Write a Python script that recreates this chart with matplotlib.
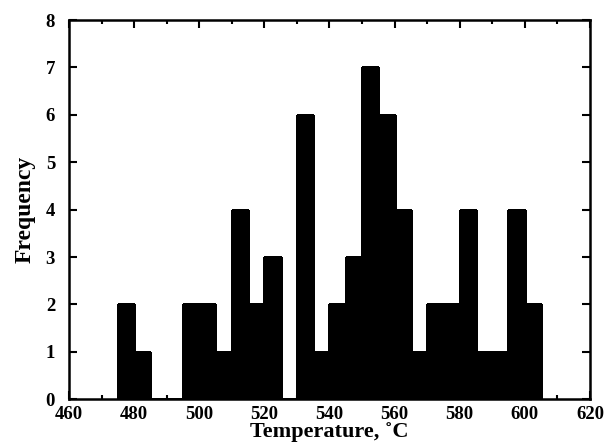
import matplotlib.pyplot as plt
from matplotlib.ticker import MultipleLocator

# histogram of temperatures, bins of 5 degC
bin_starts = [475, 480, 485, 490, 495, 500, 505, 510, 515, 520, 525,
              530, 535, 540, 545, 550, 555, 560, 565, 570, 575, 580,
              585, 590, 595, 600]
counts = [2, 1, 0, 0, 2, 2, 1, 4, 2, 3, 0,
          6, 1, 2, 3, 7, 6, 4, 1, 2, 2, 4,
          1, 1, 4, 2]
bin_width = 5

plt.rcParams["font.family"] = ["Liberation Serif", "DejaVu Serif"]
plt.rcParams["font.weight"] = "bold"

fig = plt.figure(figsize=(6.05, 4.47), dpi=100)
ax = fig.add_axes([0.114, 0.107, 0.861, 0.848])

ax.bar(bin_starts, counts, width=bin_width, align="edge",
       color="black", edgecolor="black", linewidth=1.0, antialiased=False)

ax.set_xlim(460, 620)
ax.set_ylim(0, 8)
ax.xaxis.set_major_locator(MultipleLocator(20))
ax.xaxis.set_minor_locator(MultipleLocator(10))
ax.yaxis.set_major_locator(MultipleLocator(1))

ax.tick_params(which="both", direction="in", top=True, right=True,
               labelsize=13.5, width=1.5)
ax.tick_params(which="major", length=6)
ax.tick_params(which="minor", length=3)
ax.tick_params(axis="x", pad=5)
ax.tick_params(axis="y", pad=10)

for s in ax.spines.values():
    s.set_linewidth(1.8)

ax.set_xlabel("Temperature, \u02daC", fontsize=16, fontweight="bold", labelpad=-1)
ax.set_ylabel("Frequency", fontsize=17, fontweight="bold", labelpad=7)

fig.savefig("out.png", dpi=100)
